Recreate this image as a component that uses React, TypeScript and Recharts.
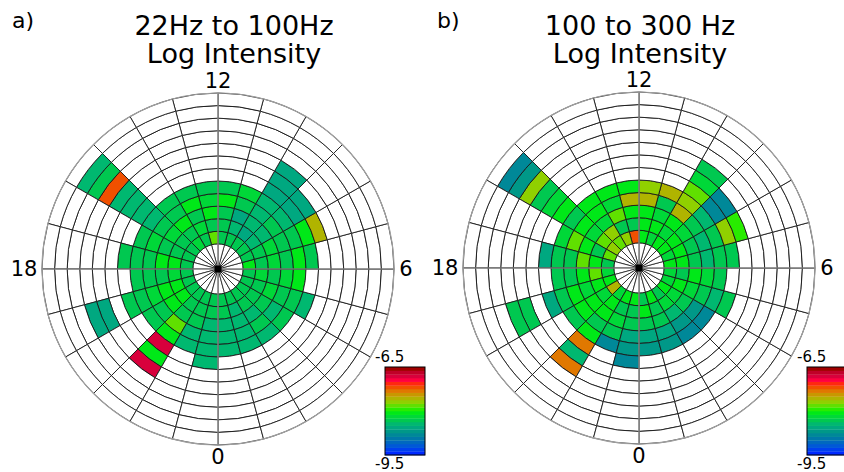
import React from "react";
import { Cell, Pie, PieChart } from "recharts";

// colour scale limits (log intensity)
const VMIN = -9.5;
const VMAX = -6.5;

// 24 discrete colour levels, bottom (-9.5) to top (-6.5)
const LEVEL_COLORS = [
  "#0028ff", "#0040ee", "#0058d8", "#0068c0", "#0078a8", "#008898",
  "#009888", "#00a880", "#00b870", "#00c850", "#00d838", "#00e818",
  "#28ec00", "#60e000", "#90d000", "#b0b400", "#c89800", "#e07800",
  "#f05000", "#ff2810", "#ff0040", "#d8003c", "#c00028", "#a00000",
];

const HOURS = [0, 1, 2, 3, 4, 5, 6, 7, 8, 9, 10, 11, 12, 13, 14, 15, 16, 17, 18, 19, 20, 21, 22, 23];
const RINGS = [0, 1, 2, 3, 4, 5, 6, 7, 8, 9, 10, 11];
const HOUR_TICKS = [
  { label: "0", angle: -90 },
  { label: "6", angle: 0 },
  { label: "12", angle: 90 },
  { label: "18", angle: 180 },
];

// shorthand intensity levels used in the tables below
const _ = null;
const TB = -8.8;
const TT = -8.7;
const T = -8.55;
const T2 = -8.45;
const G = -8.3;
const G2 = -8.2;
const B = -8.05;
const BB = -7.95;
const L = -7.8;
const YG = -7.7;
const O = -7.55;
const OR = -7.3;
const RO = -7.2;
const C = -6.8;

// one row per hour sector, one value per ring (inner -> outer); missing = empty cell
const INTENSITY_22_100 = [
  [G, G, T2, T2, T2],
  [G, T2, T2, T2, T2],
  [G, G, T2, G, T2],
  [G, G, G, T2, G],
  [G, G, G2, G, G, T2],
  [G, G2, G, G2, B],
  [B, G, G2, G, B, G],
  [G, G, G2, G, G, B, O],
  [G, T2, T2, G, T2, T, T],
  [G, T, T2, T2, T2, T, T, T],
  [G, T2, T, G, G2],
  [G, G, G, B, G],
  [L, G, B, G2, G],
  [G, G2, G, B, G],
  [G2, G, B, G, G],
  [G, G, G2, G, T2, T2, T2, T2, RO, G, T2],
  [G, G, G, G2, G],
  [G, B, B, G, G, G],
  [G, G2, G, G, G],
  [G, B, B, G2, G, G, _, T, T],
  [G, B, B, G, G],
  [G, G, G, L, B, C, B, C],
  [G, G, G, T2, T2],
  [G, G, T2, T2, T2, T2],
];

const INTENSITY_100_300 = [
  [G, B, G, T, TT],
  [B, G, G, T, TT],
  [G, G2, T2, TT, TB],
  [B, G2, G, TT, TB],
  [G2, B, G2, G, T2, G],
  [G2, G, B, G2, G],
  [B, B, G, T2, G, G],
  [G2, B, G, T2, G, YG, BB],
  [B, B, G2, G, T2, TB, TB],
  [B, G2, B, O, YG, L, G2, G],
  [G2, B, G2, G, O],
  [B, B, B, O, YG],
  [RO, G, B, O, B],
  [YG, G, L, G2, B],
  [L, YG, G2, B, B],
  [YG, L, G2, B, G, B, G2, G, YG, TT, TB],
  [L, G, B, L, G2],
  [G, B, L, G, G, T],
  [G2, L, B, G, G],
  [B, B, G2, B, G, T, _, G, G],
  [O, G2, B, B, G],
  [G2, B, B, G, B, OR, T2, OR],
  [B, G, G2, G, TB],
  [B, G, G, T, TT, TB],
];

const SIZE = 400;
const CX = 200;
const CY = 200;
const OUTER = 176;
const UNIT = OUTER / 14; // radial units: hole 0-2, data rings 2-14

const levelColor = (v: number | null | undefined) => {
  if (v === null || v === undefined) return "#ffffff";
  const step = (VMAX - VMIN) / LEVEL_COLORS.length;
  const i = Math.min(LEVEL_COLORS.length - 1, Math.max(0, Math.floor((v - VMIN) / step)));
  return LEVEL_COLORS[i];
};

const ringData = (rows: (number | null)[][], ring: number) =>
  HOURS.map((h) => ({ hour: h, size: 1, value: rows[h][ring] ?? null }));

const hubData = HOURS.map((h) => ({ hour: h, size: 1 }));

const PolarPanel = ({ rows }: { rows: (number | null)[][] }) => (
  <PieChart
    width={SIZE}
    height={SIZE}
    margin={{ top: 0, right: 0, bottom: 0, left: 0 }}
  >
    <Pie
      data={hubData}
      dataKey="size"
      cx={CX}
      cy={CY}
      innerRadius={0}
      outerRadius={2 * UNIT}
      startAngle={-90}
      endAngle={270}
      fill="#ffffff"
      stroke="#1a1a1a"
      strokeWidth={0.8}
      isAnimationActive={false}
    />
    {RINGS.map((r) => {
      const data = ringData(rows, r);
      return (
        <Pie
          key={r}
          data={data}
          dataKey="size"
          cx={CX}
          cy={CY}
          innerRadius={(2 + r) * UNIT}
          outerRadius={(3 + r) * UNIT}
          startAngle={-90}
          endAngle={270}
          stroke="#1a1a1a"
          strokeWidth={0.9}
          isAnimationActive={false}
        >
          {data.map((d) => (
            <Cell key={`c-${r}-${d.hour}`} fill={levelColor(d.value)} />
          ))}
        </Pie>
      );
    })}
  </PieChart>
);

// gray polar frame: outer circle and the 0/6/12/18 axes
const PolarFrame = ({ cx, cy }: { cx: number; cy: number }) => (
  <g>
    {HOUR_TICKS.map((t) => {
      const rad = (t.angle * Math.PI) / 180;
      return (
        <line
          key={t.label}
          x1={cx}
          y1={cy}
          x2={cx + OUTER * Math.cos(rad)}
          y2={cy - OUTER * Math.sin(rad)}
          stroke="#9a9a9a"
          strokeWidth={1.2}
        />
      );
    })}
    <circle cx={cx} cy={cy} r={OUTER} fill="none" stroke="#a0a0a0" strokeWidth={1.2} />
    <rect x={cx - 3.5} y={cy - 3.5} width={7} height={7} fill="#000" />
  </g>
);

const ColorBar = ({ x, y }: { x: number; y: number }) => {
  const h = 88;
  const w = 40;
  const band = h / LEVEL_COLORS.length;
  return (
    <g>
      {LEVEL_COLORS.map((c, i) => (
        <rect key={c} x={x} y={y + h - (i + 1) * band} width={w} height={band + 0.3} fill={c} />
      ))}
      <rect x={x} y={y} width={w} height={h} fill="none" stroke="#000" strokeWidth={1} />
      <text x={x - 10} y={y - 5} fontSize={15}>{VMAX.toFixed(1)}</text>
      <text x={x - 10} y={y + h + 14} fontSize={15}>{VMIN.toFixed(1)}</text>
    </g>
  );
};

const HourLabels = ({ cx, cy }: { cx: number; cy: number }) => (
  <g fontSize={21} textAnchor="middle">
    {HOUR_TICKS.map((t) => {
      const r = t.label === "18" ? 194 : 188;
      const rad = (t.angle * Math.PI) / 180;
      return (
        <text key={t.label} x={cx + r * Math.cos(rad)} y={cy - r * Math.sin(rad) + 7}>
          {t.label}
        </text>
      );
    })}
  </g>
);

const PANELS = [
  { tag: "a)", title: "22Hz to 100Hz", rows: INTENSITY_22_100, cx: 218, cy: 269, titleX: 234, tagX: 12, barX: 385 },
  { tag: "b)", title: "100 to 300 Hz", rows: INTENSITY_100_300, cx: 639, cy: 268, titleX: 640, tagX: 437, barX: 807 },
];

export default function App() {
  return (
    <div
      style={{
        position: "absolute",
        left: 0,
        top: 0,
        width: 844,
        height: 472,
        overflow: "hidden",
        background: "#fff",
        fontFamily: "'DejaVu Sans', sans-serif",
      }}
    >
      {PANELS.map((p) => (
        <div key={p.tag} style={{ position: "absolute", left: p.cx - CX, top: p.cy - CY }}>
          <PolarPanel rows={p.rows} />
        </div>
      ))}
      <svg
        width={844}
        height={472}
        style={{ position: "absolute", left: 0, top: 0, pointerEvents: "none" }}
        fontFamily="'DejaVu Sans', sans-serif"
      >
        {PANELS.map((p) => (
          <g key={p.tag}>
            <PolarFrame cx={p.cx} cy={p.cy} />
            <text x={p.tagX} y={28} fontSize={22}>{p.tag}</text>
            <text x={p.titleX} y={35} fontSize={27} textAnchor="middle">{p.title}</text>
            <text x={p.titleX} y={63} fontSize={27} textAnchor="middle">Log Intensity</text>
            <HourLabels cx={p.cx} cy={p.cy} />
            <ColorBar x={p.barX} y={367} />
          </g>
        ))}
      </svg>
    </div>
  );
}
